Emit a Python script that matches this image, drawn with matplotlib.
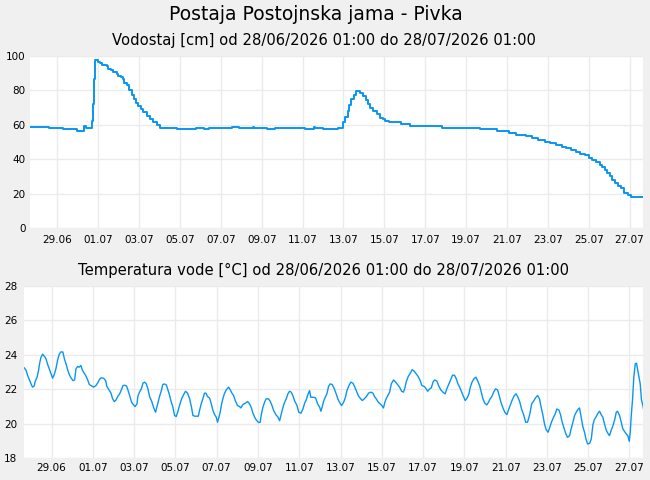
import numpy as np
import pandas as pd
import matplotlib
matplotlib.use('Agg')
import matplotlib.pyplot as plt
import matplotlib.dates as mdates

# time is in days since 28/06/2026 00:00
base = pd.Timestamp('2026-06-28 00:00')

# water level [cm] - step values
lvl_t = [-0.34, 0.61, 1.30, 1.98, 2.31, 2.40, 2.70, 2.76, 2.81, 2.86, 2.97, 3.09, 3.17,
         3.41, 3.50, 3.61, 3.74, 3.90, 3.98, 4.10, 4.20, 4.28, 4.39, 4.52, 4.64, 4.75,
         4.85, 4.96, 5.08, 5.21, 5.37, 5.53, 5.70, 5.86, 6.02, 6.84, 7.78, 8.17, 8.43,
         9.56, 9.90, 10.59, 10.63, 11.27, 11.66, 13.13, 13.55, 13.62, 14.01, 14.73,
         14.99, 15.08, 15.20, 15.28, 15.39, 15.51, 15.61, 15.72, 15.83, 15.96, 16.10,
         16.21, 16.32, 16.45, 16.62, 16.78, 16.94, 17.02, 17.24, 17.84, 18.25, 19.80,
         21.70, 22.49, 23.10, 23.46, 23.92, 24.21, 24.52, 24.85, 25.09, 25.39, 25.68,
         25.91, 26.15, 26.36, 26.56, 26.80, 27.02, 27.18, 27.34, 27.54, 27.67, 27.78,
         27.90, 28.03, 28.16, 28.27, 28.43, 28.60, 28.71, 28.92, 29.09, 29.64]
lvl_v = [59.0, 58.0, 57.6, 56.3, 59.2, 58.0, 62.0, 72.2, 86.5, 97.6, 96.4, 95.8, 94.7,
         93.9, 92.7, 91.6, 90.6, 89.6, 88.5, 87.7, 86.5, 84.2, 82.9, 80.3, 77.6, 74.9,
         72.8, 71.2, 69.3, 67.2, 65.0, 63.1, 61.6, 59.8, 58.3, 57.5, 58.1, 57.5, 58.0,
         59.0, 57.9, 59.0, 57.9, 57.3, 57.9, 57.3, 59.0, 57.9, 57.3, 57.9,
         61.6, 64.5, 68.3, 71.8, 75.1, 77.6, 79.6, 79.8, 78.6, 76.7, 74.5,
         72.2, 69.9, 67.9, 66.0, 64.1, 63.1, 62.1, 61.7, 60.6, 59.2, 58.1,
         57.5, 56.5, 55.2, 54.0, 53.2, 52.3, 51.1, 50.1, 49.4, 48.2, 47.0,
         46.3, 45.3, 44.1, 43.0, 42.2, 40.5, 39.3, 38.3, 36.8, 35.4, 33.9,
         31.9, 30.0, 28.1, 26.3, 24.6, 23.2, 20.5, 19.4, 18.0, 18.0]

# water temperature [°C]
tmp_t = [-0.32, -0.23, -0.16, -0.06, 0.02, 0.08, 0.16, 0.21, 0.29, 0.37, 0.42, 0.48, 0.57,
         0.66, 0.73, 0.81, 0.90, 0.99, 1.05, 1.13, 1.21, 1.29, 1.37, 1.45, 1.55, 1.62,
         1.70, 1.78, 1.86, 1.94, 2.04, 2.12, 2.18, 2.26, 2.34, 2.42, 2.50, 2.58, 2.68,
         2.75, 2.83, 2.91, 3.04, 3.15, 3.23, 3.31, 3.39, 3.52, 3.62, 3.68, 3.78, 3.88,
         3.96, 4.04, 4.13, 4.20, 4.30, 4.38, 4.46, 4.54, 4.63, 4.70, 4.78, 4.88, 4.97,
         5.05, 5.14, 5.18, 5.26, 5.35, 5.43, 5.51, 5.59, 5.67, 5.75, 5.85, 5.94, 6.04,
         6.10, 6.17, 6.23, 6.33, 6.38, 6.46, 6.56, 6.62, 6.70, 6.78, 6.88, 6.96, 7.04,
         7.11, 7.20, 7.30, 7.40, 7.49, 7.59, 7.69, 7.78, 7.85, 7.95, 8.11, 8.17, 8.25,
         8.33, 8.41, 8.48, 8.56, 8.66, 8.74, 8.82, 8.90, 8.98, 9.04, 9.11, 9.17,
         9.24, 9.30, 9.37, 9.46, 9.58, 9.66, 9.74, 9.82, 9.90, 10.01, 10.11, 10.17,
         10.27, 10.38, 10.50, 10.59, 10.67, 10.76, 10.84, 10.92, 11.03, 11.11, 11.16,
         11.24, 11.32, 11.40, 11.51, 11.59, 11.68, 11.76, 11.87, 11.97, 12.05, 12.11,
         12.19, 12.27, 12.37, 12.45, 12.53, 12.61, 12.69, 12.77, 12.89, 12.98, 13.08,
         13.18, 13.26, 13.34, 13.40, 13.50, 13.56, 13.69, 13.79, 13.89, 13.99, 14.05,
         14.11, 14.18, 14.26, 14.34, 14.42, 14.50, 14.60, 14.70, 14.79, 14.87, 14.95,
         15.05, 15.15, 15.24, 15.31, 15.41, 15.50, 15.60, 15.68, 15.76, 15.86, 15.95,
         16.05, 16.15, 16.25, 16.36, 16.47, 16.57, 16.65, 16.73, 16.83, 16.92, 17.00,
         17.08, 17.15, 17.21, 17.29, 17.38, 17.46, 17.57, 17.67, 17.76, 17.86, 17.96,
         18.05, 18.12, 18.18, 18.28, 18.38, 18.47, 18.57, 18.67, 18.76, 18.86,
         18.94, 19.06, 19.15, 19.22, 19.32, 19.40, 19.48, 19.56, 19.67, 19.75, 19.86,
         19.96, 20.07, 20.15, 20.25, 20.35, 20.43, 20.53, 20.61, 20.69, 20.77, 20.87,
         20.96, 21.04, 21.14, 21.22, 21.29, 21.37, 21.46, 21.56, 21.64, 21.74, 21.82,
         21.90, 21.99, 22.09, 22.17, 22.25, 22.33, 22.42, 22.51, 22.61, 22.69, 22.77,
         22.87, 22.96, 23.06, 23.14, 23.22, 23.32, 23.42, 23.51, 23.58, 23.68, 23.77,
         23.87, 23.97, 24.06, 24.13, 24.19, 24.26, 24.35, 24.45, 24.55, 24.64, 24.72,
         24.80, 24.89, 24.97, 25.06, 25.14, 25.22, 25.32, 25.40, 25.48, 25.58, 25.66,
         25.74, 25.84, 25.92, 26.00, 26.10, 26.16, 26.26, 26.34, 26.42, 26.52, 26.58,
         26.66, 26.74, 26.82, 26.89, 26.97, 27.07, 27.15, 27.23, 27.29, 27.39, 27.47,
         27.55, 27.63, 27.71, 27.79, 27.87, 27.95, 28.03, 28.12, 28.20, 28.28, 28.36,
         28.42, 28.52, 28.60, 28.68, 28.76, 28.84, 28.92, 28.99, 29.04, 29.08, 29.15,
         29.21, 29.28, 29.34, 29.39, 29.46, 29.52, 29.58, 29.65, 29.68]
tmp_v = [23.24, 23.09, 22.80, 22.50, 22.27, 22.12, 22.19, 22.47, 22.66, 23.09, 23.48, 23.83, 24.04,
         23.90, 23.77, 23.44, 23.15, 22.85, 22.64, 22.85, 23.18, 23.67, 24.02, 24.17, 24.16, 23.77,
         23.48, 23.13, 22.85, 22.66, 22.50, 22.54, 23.18, 23.32, 23.28, 23.38, 23.09, 22.93, 22.74,
         22.54, 22.27, 22.21, 22.12, 22.21, 22.35, 22.54, 22.66, 22.64, 22.50, 22.16, 21.96, 21.77,
         21.44, 21.28, 21.38, 21.57, 21.73, 21.96, 22.21, 22.23, 22.19, 21.96, 21.63, 21.24, 21.09,
         20.99, 21.15, 21.57, 21.83, 22.02, 22.35, 22.41, 22.31, 22.02, 21.57, 21.30, 20.95, 20.66,
         20.95, 21.28, 21.57, 21.96, 22.25, 22.31, 22.25, 22.02, 21.73, 21.34, 20.95, 20.47, 20.41,
         20.66, 21.05, 21.44, 21.69, 21.88, 21.77, 21.44, 20.95, 20.47, 20.43, 20.43, 20.76, 21.15,
         21.44, 21.77, 21.77, 21.57, 21.48, 21.15, 20.76, 20.52, 20.37, 20.08, 20.37, 20.66,
         21.15, 21.44, 21.73, 21.96, 22.12, 21.96, 21.77, 21.63, 21.34, 21.05, 20.99, 20.91,
         21.11, 21.18, 21.28, 21.15, 20.95, 20.60, 20.37, 20.21, 20.06, 20.08, 20.52,
         20.95, 21.24, 21.44, 21.44, 21.30, 21.05, 20.76, 20.52, 20.37, 20.17, 20.47,
         20.85, 21.18, 21.44, 21.73, 21.88, 21.83, 21.63, 21.34, 21.05, 20.66, 20.60,
         20.85, 21.18, 21.38, 21.63, 21.92, 21.53, 21.53, 21.50, 21.15, 20.95, 20.72,
         20.95, 21.30, 21.53, 21.73, 22.16, 22.31, 22.27, 22.02, 21.73, 21.44, 21.24,
         21.05, 21.24, 21.53, 21.92, 22.21, 22.41, 22.35, 22.16, 21.92, 21.63, 21.48,
         21.34, 21.44, 21.57, 21.77, 21.83, 21.77, 21.57, 21.44, 21.24, 21.15, 21.05,
         20.91, 21.24, 21.44, 21.63, 21.83, 22.31, 22.54, 22.41, 22.27, 22.12, 21.88,
         21.83, 22.08, 22.41, 22.74, 22.93, 23.13, 23.05, 22.89, 22.74, 22.50,
         22.21, 22.16, 22.02, 21.88, 22.02, 22.08, 22.41, 22.54, 22.47, 22.21, 21.96,
         21.83, 21.73, 22.02, 22.31, 22.60, 22.82, 22.80, 22.60, 22.31, 22.12, 21.83,
         21.57, 21.34, 21.50, 21.73, 22.12, 22.41, 22.60, 22.70, 22.50, 22.21, 21.83,
         21.44, 21.18, 21.09, 21.24, 21.44, 21.57, 21.83, 22.02, 21.96, 21.63, 21.24,
         20.91, 20.66, 20.52, 20.80, 21.05, 21.38, 21.63, 21.73, 21.57, 21.28, 20.85,
         20.52, 20.08, 20.08, 20.37, 20.66, 21.15, 21.30, 21.50, 21.63, 21.44, 20.95,
         20.52, 19.94, 19.63, 19.50, 19.79, 20.08, 20.37, 20.56, 20.85, 20.79, 20.52,
         20.08, 19.69, 19.40, 19.20, 19.30, 19.63, 20.08, 20.47, 20.66, 20.85, 20.91,
         20.37, 19.83, 19.50, 19.11, 18.82, 18.85, 19.11, 19.94, 20.21, 20.41, 20.60,
         20.72, 20.52, 20.37, 19.98, 19.63, 19.44, 19.30, 19.63, 19.88, 20.21, 20.66,
         20.72, 20.47, 20.08, 19.69, 19.55, 19.40, 19.30, 18.97, 19.55, 20.37, 21.44,
         22.70, 23.48, 23.51, 23.18, 22.74, 22.31, 21.38, 21.05, 20.85]

lvl_yticks = [0, 20, 40, 60, 80, 100]
tmp_yticks = [18, 20, 22, 24, 26, 28]

title = 'Postaja Postojnska jama - Pivka'
sub_lvl = 'Vodostaj [cm] od 28/06/2026 01:00 do 28/07/2026 01:00'
sub_tmp = 'Temperatura vode [°C] od 28/06/2026 01:00 do 28/07/2026 01:00'

blue = '#0a96f0'
gridc = '#ebebeb'
bg = '#f0f0f0'


def to_dates(days):
    return base + pd.to_timedelta(np.array(days), unit='D')


xmin = base + pd.Timedelta(days=-0.335)
xmax = base + pd.Timedelta(days=29.655)

W, H = 650, 480
fig = plt.figure(figsize=(W / 100, H / 100), dpi=100, facecolor=bg)


def setup(ax, yticks, ypad, xpad):
    ax.set_facecolor('white')
    for s in ax.spines.values():
        s.set_visible(False)
    ax.set_xlim(xmin, xmax)
    ax.set_ylim(yticks[0], yticks[-1])
    ax.set_yticks(yticks)
    ax.xaxis.set_major_locator(mdates.DayLocator(bymonthday=list(range(1, 32, 2))))
    ax.xaxis.set_major_formatter(mdates.DateFormatter('%d.%m'))
    ax.grid(True, color=gridc, lw=1.0)
    ax.set_axisbelow(True)
    ax.tick_params(axis='both', length=0, labelsize=7.5, colors='black')
    ax.tick_params(axis='y', pad=ypad)
    ax.tick_params(axis='x', pad=xpad)


ax1 = fig.add_axes([30 / W, (H - 228) / H, (643 - 30) / W, (228 - 56) / H])
setup(ax1, lvl_yticks, 3.2, 5.0)
ax1.plot(to_dates(lvl_t), lvl_v, color=blue, lw=1.4, drawstyle='steps-post')

ax2 = fig.add_axes([24 / W, (H - 458) / H, (643 - 24) / W, (458 - 286) / H])
setup(ax2, tmp_yticks, 5.0, 3.6)
ax2.plot(to_dates(tmp_t), tmp_v, color=blue, lw=1.0)

fig.text(316 / W, 1 - 14 / H, title, ha='center', va='center', fontsize=13.5)
fig.text(324 / W, 1 - 40 / H, sub_lvl, ha='center', va='center', fontsize=10.6)
fig.text(324 / W, 1 - 270 / H, sub_tmp, ha='center', va='center', fontsize=10.6)

fig.savefig('out.png', dpi=100, facecolor=bg)
